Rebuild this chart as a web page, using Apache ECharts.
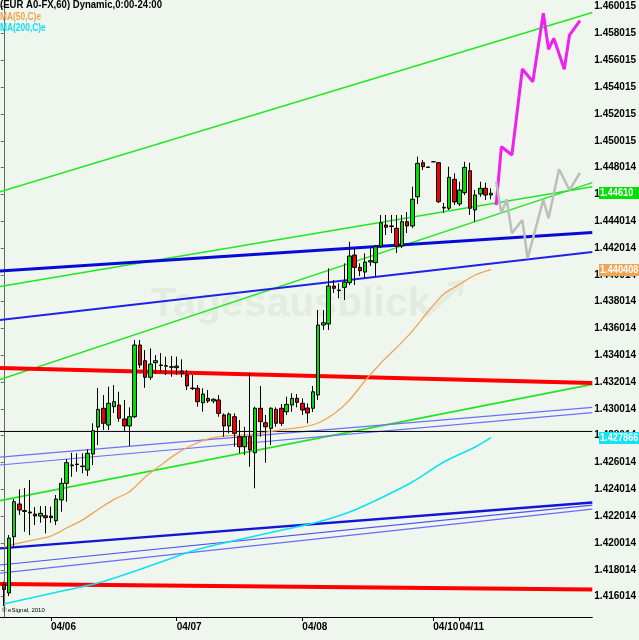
<!DOCTYPE html>
<html><head><meta charset="utf-8">
<script src="https://cdn.jsdelivr.net/npm/echarts@6/dist/echarts.min.js"></script>
<style>html,body{margin:0;padding:0;background:#eef6ee;}#c{width:639px;height:640px;}</style>
</head><body><div id="c"></div>
<script>
// ---- candle data (hourly bars, index 0..93) ----
const opens  = [1.41693,1.41628,1.42048,1.42292,1.42243,1.42232,1.42217,1.42202,1.42204,1.42202,
1.42167,1.42322,1.42446,1.42583,1.42586,1.42575,1.42545,1.42665,1.42866,1.43006,
1.42881,1.43018,1.43030,1.42926,1.42874,1.42943,1.43478,1.43361,1.43237,1.43346,
1.43329,1.43323,1.43316,1.43309,1.43284,1.43254,1.43157,1.43155,1.43047,1.43080,
1.43060,1.43068,1.42956,1.42874,1.42943,1.42794,1.42719,1.42794,1.42674,1.43006,
1.42898,1.42856,1.42998,1.43006,1.42980,1.43030,1.43080,1.43043,1.43008,1.43006,
1.43105,1.43627,1.43635,1.43918,1.43888,1.43908,1.43943,1.44149,1.44057,1.44022,
1.44097,1.44092,1.44216,1.44373,1.44366,1.44348,1.44216,1.44398,1.44366,1.44584,
1.44838,1.44806,1.44845,1.44838,1.44505,1.44498,1.44714,1.44530,1.44614,1.44778,
1.44485,1.44604,1.44647,1.44597];
const closes = [1.41655,1.42038,1.42309,1.42247,1.42236,1.42225,1.42202,1.42222,1.42190,1.42190,
1.42329,1.42446,1.42600,1.42577,1.42590,1.42571,1.42670,1.42839,1.42998,1.42894,
1.43043,1.43055,1.42931,1.42874,1.42943,1.43478,1.43329,1.43237,1.43336,1.43361,
1.43325,1.43320,1.43312,1.43321,1.43267,1.43172,1.43153,1.43055,1.43112,1.43060,
1.43073,1.42968,1.42874,1.42963,1.42819,1.42719,1.42794,1.42695,1.43006,1.42906,
1.42868,1.43006,1.42894,1.42894,1.43035,1.43080,1.43050,1.42993,1.42971,1.43129,
1.43627,1.43644,1.43918,1.43901,1.43884,1.43948,1.44142,1.44057,1.44032,1.44097,
1.44107,1.44211,1.44390,1.44356,1.44362,1.44216,1.44398,1.44366,1.44565,1.44833,
1.44808,1.44802,1.44845,1.44547,1.44500,1.44729,1.44545,1.44634,1.44803,1.44498,
1.44597,1.44647,1.44597,1.44610];
const lows   = [1.41531,1.41605,1.41973,1.42210,1.42085,1.42060,1.42135,1.42152,1.42073,1.42152,
1.42135,1.42234,1.42309,1.42495,1.42533,1.42521,1.42501,1.42583,1.42732,1.42844,
1.42844,1.42971,1.42906,1.42831,1.42724,1.42933,1.43306,1.43159,1.43217,1.43267,
1.43269,1.43254,1.43241,1.43254,1.43237,1.43142,1.43142,1.43018,1.42980,1.43045,
1.43043,1.42943,1.42794,1.42819,1.42719,1.42670,1.42657,1.42570,1.42409,1.42794,
1.42600,1.42732,1.42868,1.42874,1.42956,1.42980,1.43013,1.42956,1.42894,1.42978,
1.43068,1.43590,1.43590,1.43866,1.43826,1.43814,1.43925,1.43925,1.43993,1.43975,
1.44067,1.43993,1.44201,1.44298,1.44313,1.44164,1.44201,1.44313,1.44351,1.44530,
1.44783,1.44802,1.44845,1.44537,1.44463,1.44485,1.44522,1.44515,1.44597,1.44448,
1.44398,1.44584,1.44560,1.44565];
const highs  = [1.41712,1.42060,1.42329,1.42401,1.42411,1.42471,1.42269,1.42277,1.42277,1.42272,
1.42359,1.42486,1.42627,1.42674,1.42670,1.42670,1.42700,1.42894,1.43157,1.43105,
1.43167,1.43179,1.43129,1.43068,1.43013,1.43515,1.43515,1.43441,1.43453,1.43403,
1.43418,1.43391,1.43396,1.43391,1.43371,1.43291,1.43254,1.43179,1.43155,1.43142,
1.43080,1.43105,1.42968,1.42973,1.42968,1.42918,1.42868,1.43271,1.43018,1.43172,
1.42956,1.43013,1.43013,1.43038,1.43092,1.43118,1.43112,1.43080,1.43043,1.43172,
1.43739,1.43739,1.44050,1.43963,1.43938,1.44087,1.44248,1.44199,1.44087,1.44162,
1.44199,1.44224,1.44448,1.44448,1.44448,1.44448,1.44448,1.44470,1.44659,1.44883,
1.44858,1.44806,1.44845,1.44843,1.44537,1.44808,1.44759,1.44696,1.44845,1.44838,
1.44634,1.44696,1.44689,1.44647];

// ---- moving averages (bar index, value) ----
const ma50Idx  = [0,3,6,9,12,15,18,21,24,27,30,33,36,39,42,45,48,51,54,57,60,63,66,69,72,75,78,81,84,87,90,93];
const ma50Val  = [1.41971,1.42001,1.42027,1.42053,1.42113,1.42172,1.42251,1.42325,1.42383,1.42493,1.42583,1.42668,
1.42732,1.42777,1.42799,1.42806,1.42814,1.42833,1.42851,1.42866,1.42896,1.42963,1.43068,1.43213,1.43344,1.43459,
1.43582,1.43728,1.43858,1.43930,1.44000,1.440408];
const ma200Idx = [0,6,12,18,24,30,36,42,48,54,60,66,72,78,84,90,93];
const ma200Val = [1.41546,1.41598,1.41650,1.41702,1.41777,1.41859,1.41941,1.42001,1.42053,1.42105,1.42157,1.42232,
1.42337,1.42456,1.42605,1.42717,1.427866];

// ---- projections ----
const magIdx  = [94,95,97,99,101,103,104,105,107,108,110];
const magVal  = [1.44522,1.44957,1.44895,1.45537,1.45442,1.45952,1.45684,1.45766,1.45535,1.45790,1.45897];
const grayIdx = [94,95,96,97,99,100,103,104,106,108,110];
const grayVal = [1.44696,1.44460,1.44565,1.44311,1.44410,1.44125,1.44560,1.44423,1.44789,1.44634,1.44763];

// ---- trend lines: value at left edge, value at right edge ----
const trendNames = ['gTop','gMid','gSteep','gLow','rUp','rLow','bThick','bUp','bMidA','bMidB','bLowThick','bLow1','bLow2','hBlack'];
const trendLeft  = [1.44621,1.43914,1.43220,1.42317,1.43306,1.41695,1.44030,1.43664,1.42642,1.42583,1.41961,1.41837,1.41777,1.42833];
const trendRight = [1.45958,1.44659,1.44689,1.43184,1.43194,1.41654,1.44318,1.44172,1.43013,1.42973,1.42303,1.42284,1.42254,1.42833];
const trendColor = ['#22e622','#22e622','#22e622','#22e622','#ff0000','#ff0000','#0a0ad8','#2020e8','#6e6eff','#6e6eff','#1414d8','#5050f0','#6a6aff','#000000'];
const trendWidth = [1.5,1.5,1.5,1.8,4,4,3,2,1.2,1.2,2.4,1.2,1.2,1];

// ---- axes ----
const xMin = -0.72, xMax = 112.35;
const yMin = 1.41449, yMax = 1.460515;
const dateIdx = [9,33,57,82,87];
const dateLabels = ['04/06','04/07','04/08','04/10','04/11'];
const yTickLabels = ['1.460015','1.458015','1.456015','1.454015','1.452015','1.450015','1.448014','1.446014',
'1.444014','1.442014','1.440014','1.438014','1.436014','1.434014','1.432014','1.430014','1.428014','1.426014',
'1.424014','1.422014','1.420014','1.418014','1.416014'];
const yTickValues = yTickLabels.map(Number);
const lastLabels = ['1.44610','1.440408','1.427866'];
const lastColors = ['#00e000','#f2a455','#10e4f4'];

const FONT = "'Liberation Sans',Arial,sans-serif";
const chart = echarts.init(document.getElementById('c'), null, {renderer:'canvas'});

const candleData = opens.map((o,i)=>[i,o,closes[i],lows[i],highs[i]]);
const series = [];
trendNames.forEach((n,k)=>{
  series.push({type:'line', name:n, data:[[xMin,trendLeft[k]],[xMax,trendRight[k]]], symbol:'none', silent:true,
    lineStyle:{color:trendColor[k], width:trendWidth[k]}, z:3, animation:false});
});
series.push({type:'line', name:'MA50', data:ma50Idx.map((x,i)=>[x,ma50Val[i]]), symbol:'none', smooth:0.3,
  lineStyle:{color:'#f2a455', width:1.3}, z:4, animation:false});
series.push({type:'line', name:'MA200', data:ma200Idx.map((x,i)=>[x,ma200Val[i]]), symbol:'none', smooth:0.3,
  lineStyle:{color:'#10e0f0', width:1.6}, z:4, animation:false});
series.push({type:'candlestick', name:'EUR', data:candleData, encode:{x:0,y:[1,2,3,4]}, barWidth:4, z:5, animation:false,
  itemStyle:{color:'#00dd00', color0:'#ee0000', borderColor:'#000', borderColor0:'#000', borderWidth:1}});
series.push({type:'line', name:'proj1', data:magIdx.map((x,i)=>[x,magVal[i]]), symbol:'none',
  lineStyle:{color:'#f020f0', width:3}, z:6, animation:false});
series.push({type:'line', name:'proj2', data:grayIdx.map((x,i)=>[x,grayVal[i]]), symbol:'none',
  lineStyle:{color:'#bdbdbd', width:2.5}, z:6, animation:false});

chart.setOption({
  backgroundColor:'#eef6ee',
  animation:false,
  grid:{left:0, right:42, top:0, bottom:23, containLabel:false},
  xAxis:{type:'value', min:xMin, max:xMax,
    axisLine:{show:true, lineStyle:{color:'#000', width:1}},
    axisTick:{show:true, customValues:dateIdx, length:4, lineStyle:{color:'#000'}},
    axisLabel:{show:true, customValues:dateIdx, align:'left', margin:5, color:'#000', fontSize:10, fontWeight:'bold', fontFamily:FONT,
      formatter:(v)=>{const k=dateIdx.indexOf(Math.round(v)); return k>=0?dateLabels[k]:'';}},
    splitLine:{show:false}},
  yAxis:{type:'value', position:'right', min:yMin, max:yMax, scale:true,
    axisLine:{show:true, lineStyle:{color:'#666', width:1}},
    axisTick:{show:true, customValues:yTickValues, length:3, inside:true, lineStyle:{color:'#666'}},
    axisLabel:{show:true, customValues:yTickValues, margin:2, color:'#000', fontSize:10, fontWeight:'bold', fontFamily:FONT,
      formatter:(v)=>{let b=0,d=1; yTickValues.forEach((t,i)=>{if(Math.abs(t-v)<d){d=Math.abs(t-v);b=i;}}); return yTickLabels[b];}},
    splitLine:{show:false}},
  series:series
});

// value boxes at the right axis, placed through the chart's own y scale
const boxes = [];
[closes[closes.length-1], ma50Val[ma50Val.length-1], ma200Val[ma200Val.length-1]].forEach((v,i)=>{
  const py = Math.round(chart.convertToPixel({yAxisIndex:0}, v));
  boxes.push({type:'rect', z:100, zlevel:1, silent:true, shape:{x:599,y:py-6,width:42,height:12}, style:{fill:lastColors[i]}});
  boxes.push({type:'text', z:101, zlevel:1, silent:true, x:600, y:py-5, scaleX:0.92, style:{text:lastLabels[i], fill:'#fff', font:'bold 10px '+FONT}});
});
const wm = '#e3ece0';
chart.setOption({graphic:[
  {type:'text', x:151, y:284, z:1, silent:true, style:{text:'Tagesausblick', font:"bold 41px 'Liberation Sans',Arial", fill:wm}},
  {type:'text', x:424, y:306, z:1, silent:true, style:{text:'.de', font:"bold 8px 'Liberation Sans',Arial", fill:wm}},
  {type:'polyline', z:1, silent:true, shape:{points:[[412,300],[428,314],[458,286]]}, style:{stroke:wm, lineWidth:5, fill:null}},
  {type:'polyline', z:1, silent:true, shape:{points:[[448,284],[462,282],[460,296]]}, style:{stroke:wm, lineWidth:4, fill:null}},
  {type:'text', x:0, y:0, scaleX:0.91, z:10, silent:true, style:{text:'(EUR A0-FX,60) Dynamic,0:00-24:00', font:"bold 10.5px "+FONT, fill:'#000'}},
  {type:'text', x:0, y:11.5, scaleX:0.8, z:10, silent:true, style:{text:'MA(50,C)e', font:"bold 10.5px "+FONT, fill:'#f2a455'}},
  {type:'text', x:0, y:22.5, scaleX:0.8, z:10, silent:true, style:{text:'MA(200,C)e', font:"bold 10.5px "+FONT, fill:'#10e0f0'}},
  {type:'text', x:2, y:607, z:10, silent:true, style:{text:'© eSignal, 2010', font:"6px "+FONT, fill:'#000'}}
].concat(boxes)});
</script></body></html>
